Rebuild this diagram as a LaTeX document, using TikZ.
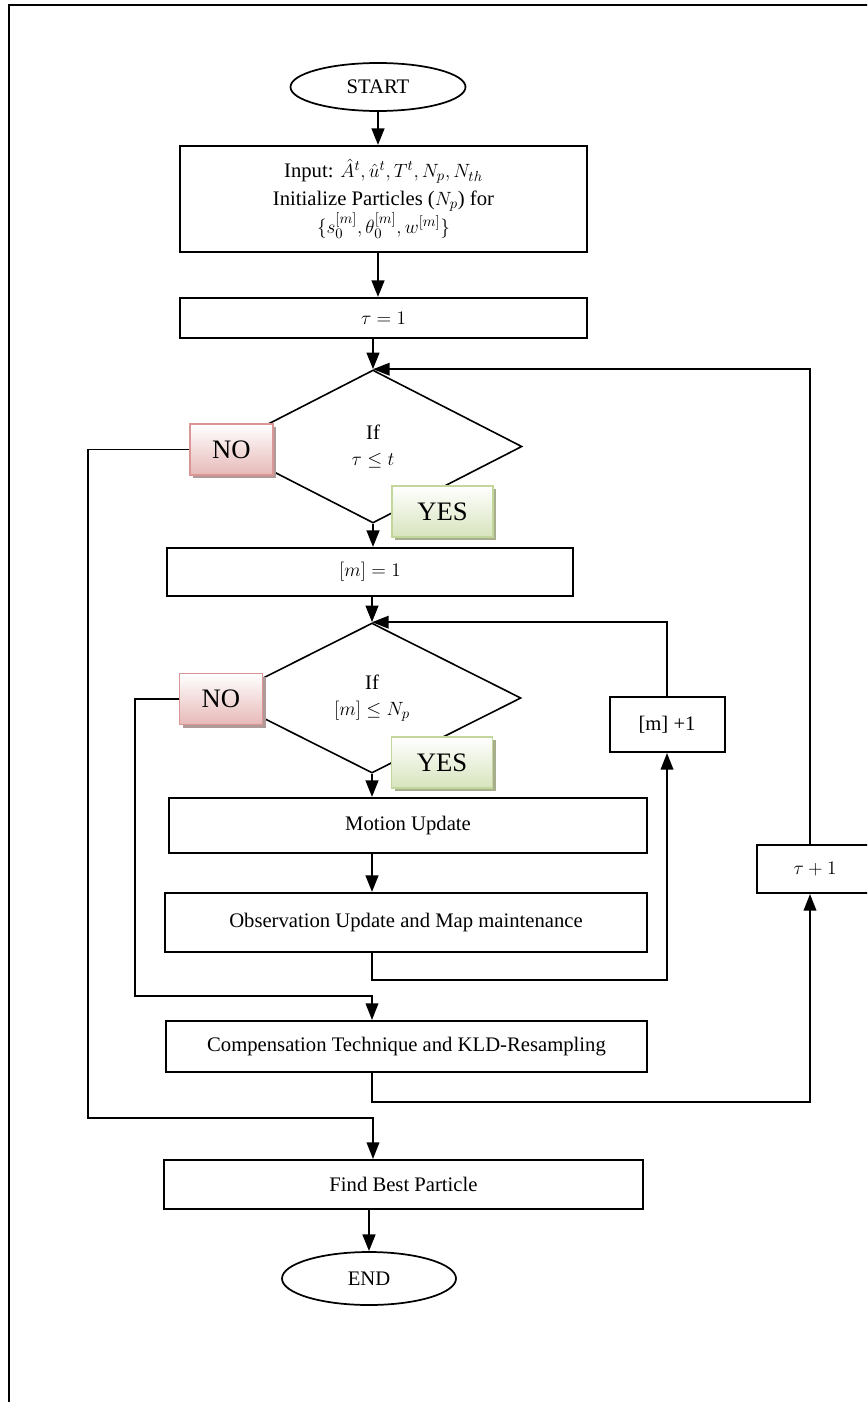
\documentclass[tikz,border=0pt]{standalone}
\usepackage{fontspec}
\setmainfont{Liberation Serif}
\usetikzlibrary{arrows.meta,shapes.geometric,shadows}
\definecolor{nobd}{HTML}{D99694}
\definecolor{nofill}{HTML}{E6B9B8}
\definecolor{noshadow}{HTML}{B09A99}
\definecolor{yesbd}{HTML}{C3D69B}
\definecolor{yesfill}{HTML}{D7E4BD}
\definecolor{yesshadow}{HTML}{A6AE8E}
\begin{document}
\begin{tikzpicture}[x=0.75pt,y=-0.75pt,
  txt/.style={font=\fontsize{15.5pt}{21pt}\selectfont},
  procbox/.style={draw, line width=1.5pt, rectangle, inner sep=0pt, align=center, txt},
  term/.style={draw, line width=1.3pt, ellipse, inner sep=0pt, txt},
  decis/.style={draw, line width=1.2pt, diamond, inner sep=0pt, align=center, font=\fontsize{15.5pt}{20pt}\selectfont},
  nobox/.style={draw=nobd, line width=1pt, top color=white, bottom color=nofill, minimum width=62.25pt, minimum height=38.25pt, inner sep=0pt, font=\fontsize{20pt}{24pt}\selectfont, drop shadow={shadow xshift=2.25pt, shadow yshift=-2.25pt, fill=noshadow, opacity=1}},
  yesbox/.style={draw=yesbd, line width=1pt, top color=white, bottom color=yesfill, minimum width=75.75pt, minimum height=38.25pt, inner sep=0pt, font=\fontsize{20pt}{24pt}\selectfont, drop shadow={shadow xshift=2.25pt, shadow yshift=-2.25pt, fill=yesshadow, opacity=1}},
  flow/.style={line width=1.8pt, -{Triangle[length=12.5pt,width=9.5pt]}},
  loopflow/.style={line width=1.2pt, -{Triangle[length=12.5pt,width=9.5pt]}},
]
\useasboundingbox (0,0) rectangle (867,1402);
\clip (0,0) rectangle (867,1402);
% frame
\draw[line width=1.5pt] (9,1420) -- (9,5) -- (890,5);

% nodes
\node[term, minimum width=131.25pt, minimum height=36pt] (start) at (378,87) {START};
\node[procbox, minimum width=305.25pt, minimum height=79.5pt] (input) at (383.5,199) {Input: $\hat{A}^t,\hat{u}^t,T^t,N_p,N_{th}$\\ Initialize Particles ($N_p$) for\\ $\{s_0^{[m]},\theta_0^{[m]},w^{[m]}\}$};
\node[procbox, minimum width=305.25pt, minimum height=30pt] (tau1) at (383.5,318) {$\tau=1$};
\node[decis, minimum width=223.5pt, minimum height=114.75pt] (d1) at (373,446.5) {If\\ $\tau\le t$};
\node[nobox] (no1) at (231.5,449.5) {NO};
\node[yesbox] (yes1) at (442.5,511.5) {YES};
\node[procbox, minimum width=304.5pt, minimum height=36pt] (m1) at (370,572) {$[m]=1$};
\node[decis, minimum width=223.5pt, minimum height=112.5pt] (d2) at (372,698) {If\\ $[m]\le N_p$};
\node[nobox] (no2) at (221,699) {NO};
\node[yesbox] (yes2) at (442,762.5) {YES};
\node[procbox, minimum width=86.25pt, minimum height=41.25pt] (mp1) at (667,724.5) {[m] +1};
\node[procbox, minimum width=358.5pt, minimum height=41.25pt] (motion) at (408,825.5) {Motion Update};
\node[procbox, minimum width=361.5pt, minimum height=44.25pt] (obs) at (406,922.5) {Observation Update and Map maintenance};
\node[procbox, minimum width=360.75pt, minimum height=38.25pt] (comp) at (406.5,1046.5) {Compensation Technique and KLD-Resampling};
\node[procbox, minimum width=359.25pt, minimum height=36.75pt] (find) at (403.5,1184.5) {Find Best Particle};
\node[term, minimum width=130.5pt, minimum height=39.75pt] (end) at (369,1278.5) {END};
\node[procbox, minimum width=87pt, minimum height=36pt] (tp1) at (815,869) {$\tau+1$};

\coordinate (c1) at (88,1118);
\coordinate (c2) at (135,996);

% connectors
\draw[flow] (start.south) -- (start.south |- input.north);
\draw[flow] (start.south |- input.south) -- (start.south |- tau1.north);
\draw[flow] (d1.north |- tau1.south) -- (d1.north);
\draw[flow] (d1.south) -- (d1.south |- m1.north);
\draw[flow] (d2.north |- m1.south) -- (d2.north);
\draw[flow] (d2.south) -- (d2.south |- motion.north);
\draw[flow] (d2.south |- motion.south) -- (d2.south |- obs.north);
\draw[loopflow] (d2.south |- obs.south) -- ++(0,27) -| (mp1.south);
\draw[loopflow] (mp1.north) |- (d2.north);
\draw[loopflow] (no2.west) -| (c2) -| (d2.south |- comp.north);
\draw[loopflow] (d2.south |- comp.south) -- ++(0,29) -| ([xshift=-3.75pt]tp1.south);
\draw[loopflow] ([xshift=-3.75pt]tp1.north) |- (d1.north);
\draw[loopflow] (no1.west) -| (c1) -| (d1.south |- find.north);
\draw[flow] (find.south -| end.north) -- (end.north);
\end{tikzpicture}
\end{document}
